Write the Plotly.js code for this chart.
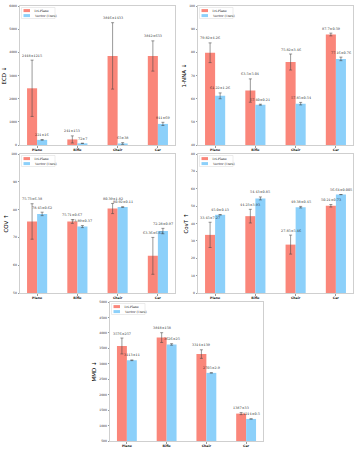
<!DOCTYPE html>
<html>
<head>
<meta charset="utf-8">
<script src="https://cdn.plot.ly/plotly-3.0.1.min.js"></script>
<style>html,body{margin:0;padding:0;background:#fff;}#chart{width:357px;height:451px;}</style>
</head>
<body>
<div id="chart"></div>
<script>
// ---- data ----
const categories = ['Plane', 'Rifle', 'Chair', 'Car'];
const seriesNames = ['Tri-Plane', 'Vector (Ours)'];

const ecdTri = [2448, 241, 3846, 3842];
const ecdTriErr = [1215, 153, 1433, 653];
const ecdVec = [221, 72, 65, 911];
const ecdVecErr = [16, 7, 38, 69];
const ecdTriTxt = ['2448±1215', '241±153', '3846±1433', '3842±653'];
const ecdVecTxt = ['221±16', '72±7', '65±38', '911±69'];

const nnaTri = [79.82, 63.5, 75.82, 87.7];
const nnaTriErr = [4.26, 5.04, 3.46, 0.59];
const nnaVec = [61.22, 57.40, 57.85, 77.16];
const nnaVecErr = [1.26, 0.21, 0.54, 0.76];
const nnaTriTxt = ['79.82±4.26', '63.5±5.04', '75.82±3.46', '87.7±0.59'];
const nnaVecTxt = ['61.22±1.26', '57.40±0.21', '57.85±0.54', '77.16±0.76'];

const covTri = [75.73, 75.71, 80.39, 63.36];
const covTriErr = [6.38, 0.67, 1.82, 6.63];
const covVec = [78.45, 73.89, 80.92, 72.28];
const covVecErr = [0.62, 0.37, 0.11, 0.97];
const covTriTxt = ['75.73±6.38', '75.71±0.67', '80.39±1.82', '63.36±6.63'];
const covVecTxt = ['78.45±0.62', '73.89±0.37', '80.92±0.11', '72.28±0.97'];

const covtTri = [33.45, 44.23, 27.85, 50.21];
const covtTriErr = [7.27, 3.93, 5.46, 0.73];
const covtVec = [45.0, 54.43, 49.38, 56.64];
const covtVecErr = [0.13, 0.85, 0.45, 0.005];
const covtTriTxt = ['33.45±7.27', '44.23±3.93', '27.85±5.46', '50.21±0.73'];
const covtVecTxt = ['45.0±0.13', '54.43±0.85', '49.38±0.45', '56.64±0.005'];

const mmdTri = [3576, 3848, 3314, 1387];
const mmdTriErr = [257, 158, 139, 33];
const mmdVec = [3113, 3626, 2705, 1214];
const mmdVecErr = [11, 25, 2.9, 0.5];
const mmdTriTxt = ['3576±257', '3848±158', '3314±139', '1387±33'];
const mmdVecTxt = ['3113±11', '3626±25', '2705±2.9', '1214±0.5'];

// ---- layout helpers ----
const W = 357, H = 451;
const px = x => x / W;
const py = y => (H - y) / H;

const panels = [
  {title: 'ECD ↓', tri: ecdTri, triErr: ecdTriErr, vec: ecdVec, vecErr: ecdVecErr, triTxt: ecdTriTxt, vecTxt: ecdVecTxt,
   box: [20, 175, 6, 145], range: [0, 6000], dtick: 1000},
  {title: '1-NNA ↓', tri: nnaTri, triErr: nnaTriErr, vec: nnaVec, vecErr: nnaVecErr, triTxt: nnaTriTxt, vecTxt: nnaVecTxt,
   box: [198, 353, 6, 145], range: [40, 100], dtick: 10},
  {title: 'COV ↑', tri: covTri, triErr: covTriErr, vec: covVec, vecErr: covVecErr, triTxt: covTriTxt, vecTxt: covVecTxt,
   box: [20, 175, 154, 293], range: [50, 100], dtick: 10},
  {title: 'CovT ↑', tri: covtTri, triErr: covtTriErr, vec: covtVec, vecErr: covtVecErr, triTxt: covtTriTxt, vecTxt: covtVecTxt,
   box: [198, 353, 154, 293], range: [0, 80], dtick: 10},
  {title: 'MMD ↓', tri: mmdTri, triErr: mmdTriErr, vec: mmdVec, vecErr: mmdVecErr, triTxt: mmdTriTxt, vecTxt: mmdVecTxt,
   box: [110, 263, 302, 441], range: [500, 5000], dtick: 500}
];

const RED = 'rgb(250,134,122)';
const BLUE = 'rgb(140,208,250)';
const ERR = 'rgba(70,70,70,0.55)';
const FRAME = '#cfcfcf';
const idx = categories.map((c, i) => i);

const data = [];
const layout = {
  width: W, height: H,
  margin: {l: 0, r: 0, t: 0, b: 0},
  paper_bgcolor: '#fff', plot_bgcolor: '#fff',
  showlegend: false,
  barmode: 'group', bargap: 0.5, bargroupgap: 0,
  annotations: [], shapes: []
};

panels.forEach((p, k) => {
  const n = k === 0 ? '' : String(k + 1);
  const xa = 'x' + n, ya = 'y' + n;
  const [l, r, t, b] = p.box;
  const mk = (vals, errs, color, name, off) => ({
    type: 'bar', x: idx.map(i => i + off), y: vals, width: 0.25, name: name,
    xaxis: xa, yaxis: ya,
    marker: {color: color, line: {width: 0}},
    error_y: {type: 'data', array: errs, visible: true, color: ERR, thickness: 1, width: 1.5},
    hoverinfo: 'skip'
  });
  data.push(mk(p.tri, p.triErr, RED, seriesNames[0], -0.125));
  data.push(mk(p.vec, p.vecErr, BLUE, seriesNames[1], 0.125));

  layout['xaxis' + n] = {
    domain: [px(l), px(r)], anchor: ya, range: [-0.425, 3.425],
    tickmode: 'array', tickvals: idx, ticktext: categories.map(c => '<b>' + c + '</b>'),
    tickfont: {family: 'DejaVu Sans', size: 3.2, color: '#111'},
    ticks: 'outside', ticklen: 1.5, tickcolor: '#333', tickwidth: 0.5,
    showline: true, linecolor: FRAME, linewidth: 1, mirror: true,
    showgrid: false, zeroline: false, fixedrange: true
  };
  layout['yaxis' + n] = {
    domain: [py(b), py(t)], anchor: xa, range: p.range, dtick: p.dtick, tick0: p.range[0],
    tickfont: {family: 'DejaVu Sans', size: 3, color: '#333'},
    ticks: 'outside', ticklen: 1.5, tickcolor: '#333', tickwidth: 0.5,
    showline: true, linecolor: FRAME, linewidth: 1, mirror: true,
    showgrid: false, zeroline: false, fixedrange: true,
    title: {text: p.title, font: {family: 'DejaVu Sans', size: 5.5, color: '#000'}, standoff: 2}
  };

  // value labels
  const addLab = (vals, errs, txts, off) => vals.forEach((v, i) => {
    layout.annotations.push({
      xref: xa, yref: ya, x: i + off, y: v + errs[i], text: txts[i],
      showarrow: false, yanchor: 'bottom', xanchor: 'center', yshift: 0.5,
      font: {family: 'DejaVu Serif', size: 3.4, color: '#222'}
    });
  });
  addLab(p.tri, p.triErr, p.triTxt, -0.125);
  addLab(p.vec, p.vecErr, p.vecTxt, 0.125);

  // legend (per panel)
  layout.shapes.push({type: 'rect', xref: 'paper', yref: 'paper',
    x0: px(l + 1.5), x1: px(l + 35), y0: py(t + 12.5), y1: py(t + 1.5),
    line: {color: '#d8d8d8', width: 0.5}, fillcolor: 'rgba(255,255,255,0.8)'});
  [[RED, seriesNames[0], 4.6], [BLUE, seriesNames[1], 9.6]].forEach(([c, nm, dy]) => {
    layout.shapes.push({type: 'rect', xref: 'paper', yref: 'paper',
      x0: px(l + 3.5), x1: px(l + 10), y0: py(t + dy + 1.5), y1: py(t + dy - 1.5),
      line: {width: 0}, fillcolor: c});
    layout.annotations.push({xref: 'paper', yref: 'paper', x: px(l + 12), y: py(t + dy),
      text: nm, showarrow: false, xanchor: 'left', yanchor: 'middle',
      font: {family: 'DejaVu Serif', size: 3.2, color: '#222'}});
  });
});

Plotly.newPlot('chart', data, layout, {staticPlot: true, displayModeBar: false});
</script>
</body>
</html>
